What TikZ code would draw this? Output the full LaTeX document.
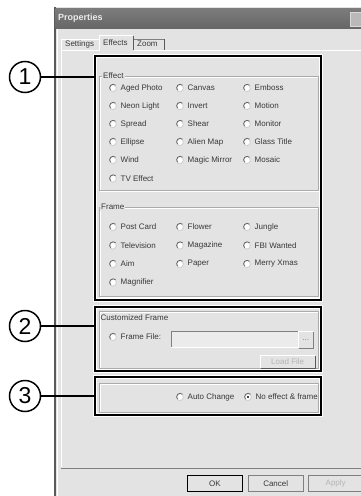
\documentclass[tikz,border=0pt]{standalone}
\usepackage{fontspec}
\setmainfont{Liberation Sans}
\definecolor{winbody}{HTML}{E3E3E3}
\definecolor{txt}{HTML}{383838}
\definecolor{etchd}{HTML}{ABABAB}
\definecolor{radk}{HTML}{6A6A6A}
\definecolor{ralt}{HTML}{D0D0D0}
\definecolor{dis}{HTML}{B4B4B4}
\definecolor{titletop}{HTML}{7C7C7C}
\definecolor{titlebot}{HTML}{676767}
\tikzset{
  hl/.style={draw=black, line width=2.4pt, inner sep=0pt, preaction={draw=white, line width=4.6pt}},
  callout/.style={circle, draw=black, line width=1.5pt, fill=white, minimum size=31pt, inner sep=0pt, font=\fontsize{23}{23}\selectfont},
  lead/.style={draw=black, line width=1.3pt},
  radio/.style={circle, fill=white, minimum size=7pt, inner sep=0pt},
  radark/.style={draw=radk, line width=0.9pt},
  ralight/.style={draw=ralt, line width=0.9pt},
  rlabel/.style={anchor=west, inner sep=0pt, text=txt},
  glabel/.style={anchor=west, inner sep=1pt, fill=winbody, text=txt},
  etch/.style={draw=etchd, line width=0.8pt},
  etchw/.style={draw=white, line width=0.8pt},
  btn/.style={draw=gray, fill=winbody, inner sep=0pt, text=txt},
}
\newcommand\rb[4]{%
  \node[radio] (#1) at (#2,#3) {};
  \draw[radark] (#1.45) arc[start angle=45,end angle=225,radius=3.5pt];
  \draw[ralight] (#1.225) arc[start angle=225,end angle=405,radius=3.5pt];
  \node[rlabel] (#1t) at (#2+7.5,#3) {#4};
}
\newcommand\etchbox[4]{%
  \draw[etchw] (#1+1,#2+1) rectangle (#3+1,#4+1);
  \draw[etch] (#1,#2) rectangle (#3,#4);
}
\begin{document}
\begin{tikzpicture}[x=1pt,y=-1pt,font=\fontsize{8}{9}\selectfont]
\useasboundingbox (0,0) rectangle (360,496);
\fill[white] (0,0) rectangle (360,496);
% window
\fill[winbody] (54,7) rectangle (362,497);
\draw[draw=gray!70!black, line width=1.5pt] (54.75,7) -- (54.75,497);
\draw[draw=white, line width=0.8pt] (57,28) -- (57,497);
% title bar
\shade[top color=titletop, bottom color=titlebot] (55.5,8) rectangle (362,28);
\node[anchor=west, inner sep=0pt, text=white!92!black, font=\fontsize{9}{10}\selectfont\bfseries] (title) at (58,18.5) {Properties};
\node[draw=white!85!black, fill=gray!55, minimum width=14pt, minimum height=14pt, inner sep=0pt] (close) at (357,19) {};
% tab page
\draw[draw=white, line width=0.8pt] (61,467) -- (61,50) -- (362,50);
\draw[draw=gray, line width=0.8pt] (60.5,468) -- (362,468);
% tabs
\draw[draw=white, line width=0.8pt] (61,50) -- (61,39) -- (99,39);
\draw[draw=gray, line width=0.8pt] (134,39) -- (164,39);
\draw[draw=gray!70!black, line width=0.8pt] (164,39) -- (164,50);
\fill[winbody] (99.5,35) rectangle (133.5,51);
\draw[draw=white, line width=0.8pt] (99.5,51) -- (99.5,35.5) -- (133,35.5);
\draw[draw=gray!70!black, line width=0.9pt] (133.5,35.5) -- (133.5,50);
\node[rlabel] (tset) at (65,44) {Settings};
\node[rlabel] (teff) at (103,43) {Effects};
\node[rlabel] (tzoom) at (137,44) {Zoom};
% group boxes
\etchbox{99}{76}{318}{190}
\etchbox{99}{207}{318}{296}
\etchbox{99}{311}{318}{368}
\etchbox{99}{383}{318}{412}
\node[glabel] (geff) at (102,76) {Effect};
\node[glabel] (gframe) at (100,207) {Frame};
\node[rlabel] (gcust) at (100.5,318) {Customized Frame};
% effect radios
\rb{e1}{113}{88}{Aged Photo}
\rb{e2}{113}{106}{Neon Light}
\rb{e3}{113}{124}{Spread}
\rb{e4}{113}{142}{Ellipse}
\rb{e5}{113}{160}{Wind}
\rb{e6}{113}{178.5}{TV Effect}
\rb{e7}{180}{88}{Canvas}
\rb{e8}{180}{106}{Invert}
\rb{e9}{180}{124}{Shear}
\rb{e10}{180}{142}{Alien Map}
\rb{e11}{180}{160}{Magic Mirror}
\rb{e12}{247}{88}{Emboss}
\rb{e13}{247}{106}{Motion}
\rb{e14}{247}{124}{Monitor}
\rb{e15}{247}{142}{Glass Title}
\rb{e16}{247}{160}{Mosaic}
% frame radios
\rb{f1}{113}{227}{Post Card}
\rb{f2}{113}{245.5}{Television}
\rb{f3}{113}{264}{Aim}
\rb{f4}{113}{282.5}{Magnifier}
\rb{f5}{180}{227}{Flower}
\rb{f6}{180}{245.5}{Magazine}
\rb{f7}{180}{264}{Paper}
\rb{f8}{247}{227}{Jungle}
\rb{f9}{247}{245.5}{FBI Wanted}
\rb{f10}{247}{264}{Merry Xmas}
% customized frame
\rb{cf}{113}{337}{Frame File:}
\fill[winbody!70!white] (171,331) rectangle (298,347);
\draw[draw=gray, line width=0.8pt] (171,347) -- (171,331) -- (298,331);
\draw[draw=white, line width=0.8pt] (171,347.5) -- (298,347.5);
\node[btn, draw=none, minimum width=15pt, minimum height=17pt, anchor=north west, text=gray] (dots) at (298,331) {...};
\draw[draw=white, line width=0.8pt] (298.5,348) -- (298.5,331.5) -- (313,331.5);
\draw[draw=gray, line width=0.8pt] (298.5,348) -- (313,348) -- (313,331.5);
\node[btn, draw=none, minimum width=55pt, minimum height=13pt, anchor=north west, text=dis] (load) at (260,355) {Load File};
\draw[draw=white, line width=0.8pt] (260.5,368) -- (260.5,355.5) -- (315,355.5);
\draw[draw=gray!70!black, line width=1pt] (260.5,368) -- (315,368) -- (315,355.5);
% mode radios
\rb{m1}{180}{397}{Auto Change}
\rb{m2}{248}{397}{No effect \& frame}
\fill[black] (m2) circle[radius=1.2pt];
% highlight boxes
\node[hl, minimum width=226pt, minimum height=244pt] (b1) at (208,178) {};
\node[hl, minimum width=226pt, minimum height=64pt] (b2) at (208,339) {};
\node[hl, minimum width=226pt, minimum height=38pt] (b3) at (208,396) {};
% bottom buttons
\node[btn, draw=black, line width=0.9pt, minimum width=55pt, minimum height=16pt, anchor=north west] (ok) at (187,475) {OK};
\node[btn, minimum width=55pt, minimum height=16pt, anchor=north west] (cancel) at (248,475) {Cancel};
\node[btn, minimum width=55pt, minimum height=16pt, anchor=north west, text=dis] (apply) at (308,475) {Apply};
% callouts
\node[callout] (c1) at (25,77) {1};
\node[callout] (c2) at (25,326) {2};
\node[callout] (c3) at (25,396) {3};
\draw[lead] (c1.east) -- (c1.east -| b1.west);
\draw[lead] (c2.east) -- (c2.east -| b2.west);
\draw[lead] (c3.east) -- (c3.east -| b3.west);
\end{tikzpicture}
\end{document}
